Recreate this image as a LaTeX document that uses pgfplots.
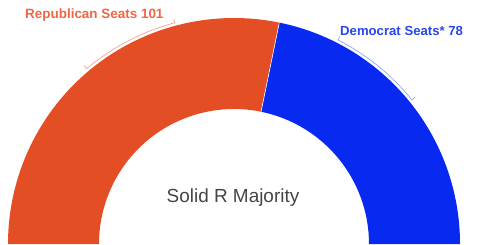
\documentclass[border=0pt]{standalone}
\usepackage{pgfplots}
\pgfplotsset{compat=1.18}
\usepackage{fontspec}
\setmainfont{Liberation Sans}
\definecolor{rep}{RGB}{228,78,36}
\definecolor{repl}{RGB}{238,102,68}
\definecolor{dem}{RGB}{8,42,240}
\definecolor{deml}{RGB}{40,70,235}
\definecolor{ctr}{RGB}{68,68,68}
\def\rep{101}
\def\dem{78}
\begin{document}
\begin{tikzpicture}
\pgfmathsetmacro\ang{180-180*(\rep/(\rep+\dem))}
\begin{axis}[
  width=480bp, height=244bp, scale only axis,
  xmin=0, xmax=480, ymin=0, ymax=244,
  hide axis, clip=false,
]
\path (axis cs:0,0) rectangle (axis cs:480,244);
% Republican wedge
\fill[rep] (axis cs:8,0) arc[start angle=180, end angle=\ang, radius=226bp]
  -- (axis cs:{234+135*cos(\ang)},{135*sin(\ang)})
  arc[start angle=\ang, end angle=180, radius=135bp] -- cycle;
% Democrat wedge
\fill[dem] (axis cs:{234+226*cos(\ang)},{226*sin(\ang)}) arc[start angle=\ang, end angle=0, radius=226bp]
  -- (axis cs:369,0)
  arc[start angle=0, end angle=\ang, radius=135bp] -- cycle;
\draw[white, line width=0.6pt] (axis cs:{234+135*cos(\ang)},{135*sin(\ang)}) -- (axis cs:{234+226*cos(\ang)},{226*sin(\ang)});
% brackets
\draw[repl!70, line width=0.6pt]
  (axis cs:{234+233*cos(130)},{233*sin(130)}) -- (axis cs:{234+229*cos(130)},{229*sin(130)})
  arc[start angle=130, end angle=105, radius=229bp]
  -- (axis cs:{234+233*cos(105)},{233*sin(105)});
\draw[deml!55, line width=0.6pt]
  (axis cs:{234+233*cos(63)},{233*sin(63)}) -- (axis cs:{234+229*cos(63)},{229*sin(63)})
  arc[start angle=63, end angle=39, radius=229bp]
  -- (axis cs:{234+233*cos(39)},{233*sin(39)});
\node[anchor=base west, inner sep=0pt, text=repl, font=\bfseries\fontsize{13.5}{14}\selectfont] at (axis cs:25,225) {Republican Seats 101};
\node[anchor=base west, inner sep=0pt, text=deml, font=\bfseries\fontsize{13.2}{14}\selectfont] at (axis cs:340,208) {Democrat Seats* 78};
\node[anchor=center, inner sep=0pt, text=ctr, font=\fontsize{19}{21}\selectfont] at (axis cs:233,46) {Solid R Majority};
\end{axis}
\end{tikzpicture}
\end{document}
